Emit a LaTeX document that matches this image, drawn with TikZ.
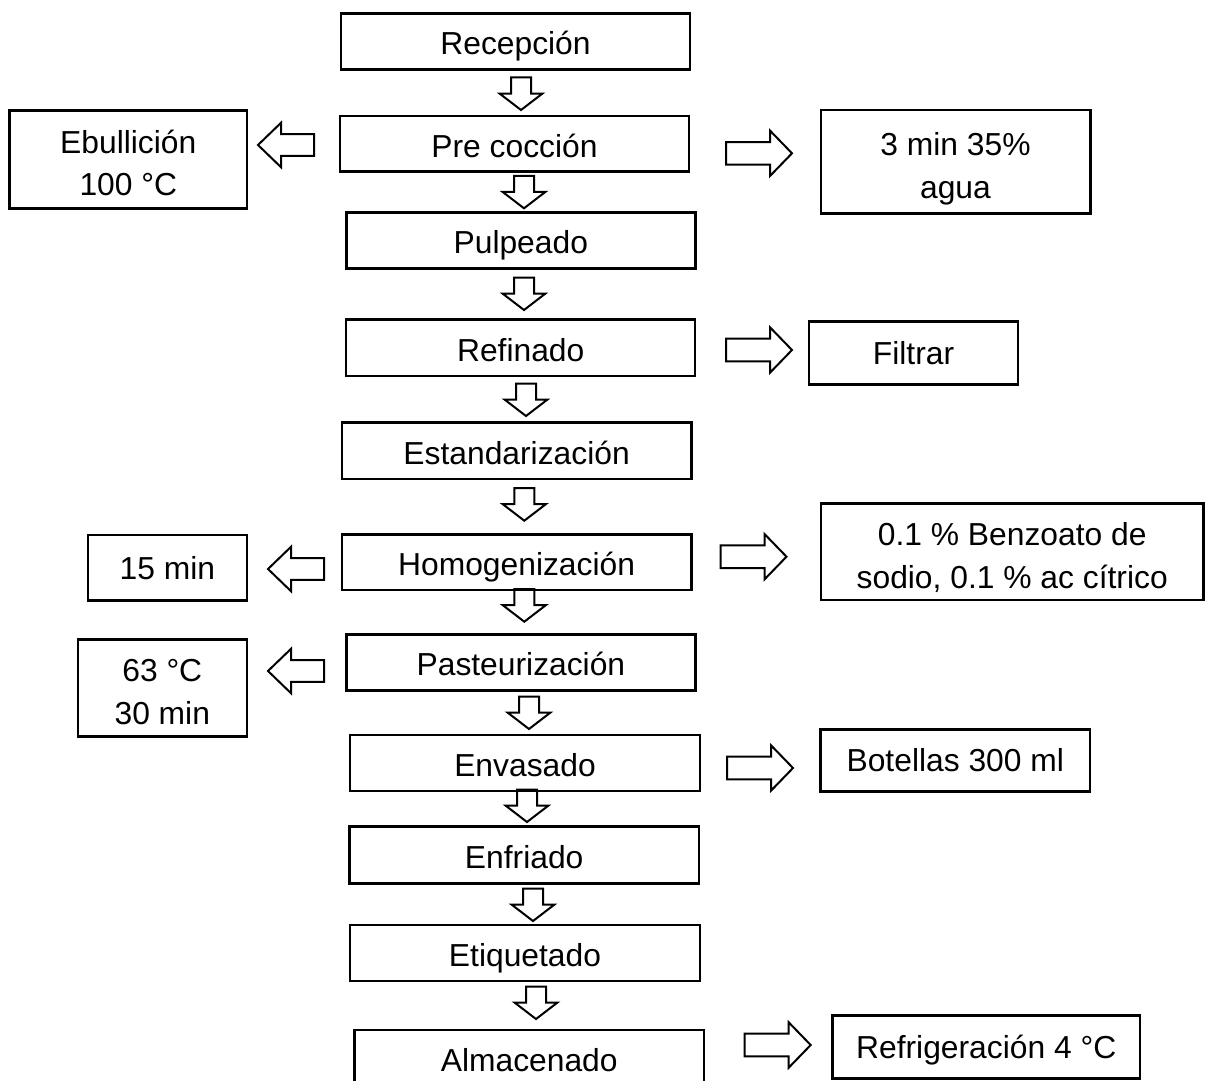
\documentclass[tikz,border=0pt]{standalone}
\usepackage{fontspec}
\setmainfont{Liberation Sans}
\begin{document}
\begin{tikzpicture}[x=1pt,y=-1pt,
  boxbase/.style={draw, line width=2.5pt, inner sep=0pt, font=\fontsize{31.8}{42.5}\selectfont, text depth=0pt},
  mainbox/.style={boxbase, text height=26.8pt},
  sidebox/.style={boxbase, text height=22.8pt},
  twoline/.style={boxbase, align=center, text height=72.7pt, text depth=0pt},
  arrline/.style={draw, line width=2pt, line join=miter},
  darr/.pic={\path[arrline] (0,0) -- (-21.5,-16.5) -- (-10,-16.5) -- (-10,-32.5) -- (10,-32.5) -- (10,-16.5) -- (21.5,-16.5) -- cycle;},
  rarr/.pic={\path[arrline] (0,0) -- (-22,-22.7) -- (-22,-11.3) -- (-66,-11.3) -- (-66,11.3) -- (-22,11.3) -- (-22,22.7) -- cycle;},
  larr/.pic={\path[arrline] (0,0) -- (23,-22.2) -- (23,-10.8) -- (56,-10.8) -- (56,10.8) -- (23,10.8) -- (23,22.2) -- cycle;}
]
\clip (0,0) rectangle (1205,1081);
\fill[white] (0,0) rectangle (1205,1081);

% main column
\node[mainbox, minimum width=349pt, minimum height=56pt] (rec) at (515.5,41.3) {Recepción};
\node[mainbox, minimum width=349pt, minimum height=55.7pt] (pre) at (514.5,143.8) {Pre cocción};
\node[mainbox, minimum width=349pt, minimum height=56pt] (pul) at (520.8,240.3) {Pulpeado};
\node[mainbox, minimum width=349pt, minimum height=56.7pt] (ref) at (520.7,347.7) {Refinado};
\node[mainbox, minimum width=349.7pt, minimum height=56.7pt] (est) at (516.6,450.7) {Estandarización};
\node[mainbox, minimum width=349.7pt, minimum height=55.7pt] (hom) at (516.6,562.2) {Homogenización};
\node[mainbox, minimum width=349pt, minimum height=56.4pt] (pas) at (520.9,662.5) {Pasteurización};
\node[mainbox, minimum width=350pt, minimum height=56pt] (env) at (525,763) {Envasado};
\node[mainbox, minimum width=349.7pt, minimum height=56.6pt] (enf) at (524.2,855) {Enfriado};
\node[mainbox, minimum width=350pt, minimum height=56pt] (eti) at (525,953) {Etiquetado};
\node[mainbox, minimum width=349.7pt, minimum height=56pt] (alm) at (529.2,1058) {Almacenado};

% side boxes
\node[twoline, minimum width=237.4pt, minimum height=97.6pt] (ebu) at (128.3,159.5) {Ebullición\\100 °C};
\node[twoline, minimum width=269.5pt, minimum height=103.3pt] (tres) at (955.5,161.7) {3 min 35\%\\agua};
\node[sidebox, minimum width=209.2pt, minimum height=62.6pt] (fil) at (913.5,353) {Filtrar};
\node[sidebox, minimum width=158.8pt, minimum height=65.7pt] (quin) at (167.4,567.8) {15 min};
\node[twoline, minimum width=382.7pt, minimum height=96.7pt] (ben) at (1012.2,551.7) {0.1 \% Benzoato de\\sodio, 0.1 \% ac cítrico};
\node[twoline, minimum width=169pt, minimum height=97.3pt] (ses) at (162.3,688) {63 °C\\30 min};
\node[sidebox, minimum width=269.3pt, minimum height=62.4pt] (bot) at (955.3,760.5) {Botellas 300 ml};
\node[sidebox, minimum width=307.7pt, minimum height=62.6pt] (refr) at (986.2,1047) {Refrigeración 4 °C};

% downward block arrows (tip positions)
\pic at (521,110) {darr};
\pic at (524,208.3) {darr};
\pic at (524,310) {darr};
\pic at (526,416) {darr};
\pic at (524.3,520.7) {darr};
\pic at (524.3,621.7) {darr};
\pic at (529,729) {darr};
\pic at (527,822) {darr};
\pic at (533,921) {darr};
\pic at (536,1019) {darr};

% rightward block arrows
\pic at (792,153.3) {rarr};
\pic at (792,350) {rarr};
\pic at (786.5,556.7) {rarr};
\pic at (793,768) {rarr};
\pic at (810.7,1045) {rarr};

% leftward block arrows
\pic at (258,145) {larr};
\pic at (268,569) {larr};
\pic at (268,671) {larr};
\end{tikzpicture}
\end{document}
